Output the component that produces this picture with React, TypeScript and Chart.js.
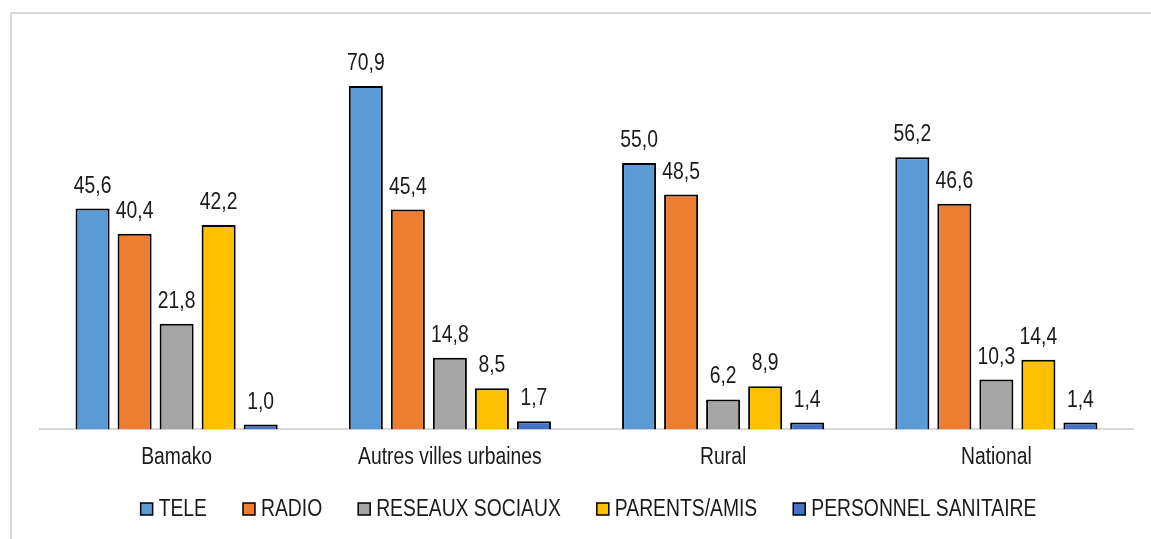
import { useEffect, useRef } from "react";
import { Chart, registerables } from "chart.js";

Chart.register(...registerables);

const categories = ["Bamako", "Autres villes urbaines", "Rural", "National"];
const seriesNames = ["TELE", "RADIO", "RESEAUX SOCIAUX", "PARENTS/AMIS", "PERSONNEL SANITAIRE"];
const tele = [45.6, 70.9, 55.0, 56.2];
const radio = [40.4, 45.4, 48.5, 46.6];
const reseaux = [21.8, 14.8, 6.2, 10.3];
const parents = [42.2, 8.5, 8.9, 14.4];
const personnel = [1.0, 1.7, 1.4, 1.4];
const seriesValues = [tele, radio, reseaux, parents, personnel];
const seriesColors = ["#5B9BD5", "#ED7D31", "#A5A5A5", "#FFC000", "#4472C4"];
const yMin = 0;
const yMax = 80;

const FONT = '"Liberation Sans", Arial, sans-serif';
const FS = 23;
const SQUEEZE = 0.84;
const TEXT = "#1a1a1a";

const fmt = (v: number) => v.toFixed(1).replace(".", ",");

function narrowText(ctx: CanvasRenderingContext2D, text: string, x: number, y: number) {
  ctx.save();
  ctx.translate(x, y);
  ctx.scale(SQUEEZE, 1);
  ctx.fillText(text, 0, 0);
  ctx.restore();
}

const valueLabels = {
  id: "valueLabels",
  afterDatasetsDraw(chart: any) {
    const ctx = chart.ctx;
    ctx.save();
    ctx.font = `${FS}px ${FONT}`;
    ctx.fillStyle = TEXT;
    ctx.textAlign = "center";
    ctx.textBaseline = "alphabetic";
    chart.data.datasets.forEach((ds: any, i: number) => {
      const meta = chart.getDatasetMeta(i);
      meta.data.forEach((el: any, j: number) => {
        narrowText(ctx, fmt(ds.data[j]), el.x, el.y - 16);
      });
    });
    ctx.restore();
  },
};

const categoryLabels = {
  id: "categoryLabels",
  afterDraw(chart: any) {
    const ctx = chart.ctx;
    const xs = chart.scales.x;
    ctx.save();
    ctx.font = `${FS}px ${FONT}`;
    ctx.fillStyle = TEXT;
    ctx.textAlign = "center";
    ctx.textBaseline = "middle";
    chart.data.labels.forEach((lab: string, i: number) => {
      narrowText(ctx, lab, xs.getPixelForTick(i), chart.chartArea.bottom + 28);
    });
    ctx.restore();
  },
};

const bottomLegend = {
  id: "bottomLegend",
  afterDraw(chart: any) {
    const ctx = chart.ctx;
    ctx.save();
    ctx.font = `${FS}px ${FONT}`;
    const box = 12;
    const gapBox = 6;
    const gapItem = 36;
    const items = chart.data.datasets.map((ds: any) => ({
      label: ds.label,
      color: ds.backgroundColor,
      tw: ctx.measureText(ds.label).width * SQUEEZE,
    }));
    items.forEach((it: any) => (it.w = box + gapBox + it.tw));
    const total = items.reduce((s: number, it: any) => s + it.w, 0) + gapItem * (items.length - 1);
    const ca = chart.chartArea;
    let x = (ca.left + ca.right) / 2 - total / 2 + 2;
    const y = chart.height - 30;
    ctx.textBaseline = "middle";
    ctx.textAlign = "left";
    items.forEach((it: any) => {
      ctx.fillStyle = it.color;
      ctx.fillRect(x, y - box / 2, box, box);
      ctx.lineWidth = 1.5;
      ctx.strokeStyle = "#000";
      ctx.strokeRect(x, y - box / 2, box, box);
      ctx.fillStyle = TEXT;
      narrowText(ctx, it.label, x + box + gapBox, y + 1);
      x += it.w + gapItem;
    });
    ctx.restore();
  },
};

export default function App() {
  const ref = useRef<HTMLCanvasElement>(null);
  useEffect(() => {
    if (!ref.current) return;
    const chart = new Chart(ref.current, {
      type: "bar",
      data: {
        labels: categories,
        datasets: seriesNames.map((name, i) => ({
          label: name,
          data: seriesValues[i],
          backgroundColor: seriesColors[i],
          borderColor: "#000",
          borderWidth: 2,
          categoryPercentage: 0.769,
          barPercentage: 0.81,
        })),
      },
      options: {
        animation: false,
        responsive: false,
        maintainAspectRatio: false,
        layout: { padding: { left: 40, right: 18, top: 42, bottom: 60 } },
        plugins: {
          legend: { display: false },
          tooltip: { enabled: false },
          title: { display: false },
        },
        scales: {
          x: {
            grid: { display: false },
            border: { display: true, color: "#d9d9d9", width: 2 },
            ticks: {
              color: "rgba(0,0,0,0)",
              font: { family: FONT, size: FS },
              padding: 7,
              maxRotation: 0,
            },
          },
          y: {
            display: false,
            min: yMin,
            max: yMax,
          },
        },
      },
      plugins: [valueLabels, categoryLabels, bottomLegend],
    });
    return () => chart.destroy();
  }, []);
  return (
    <div style={{ position: "fixed", left: 0, top: 0, width: 1151, height: 539, background: "#fff", overflow: "hidden" }}>
      <div
        style={{
          position: "absolute",
          left: 10,
          top: 12,
          width: 1160,
          height: 560,
          borderLeft: "2px solid #d9d9d9",
          borderTop: "2px solid #d9d9d9",
        }}
      />
      <canvas ref={ref} width={1151} height={539} style={{ position: "absolute", left: 0, top: 0, width: 1151, height: 539 }} />
    </div>
  );
}
